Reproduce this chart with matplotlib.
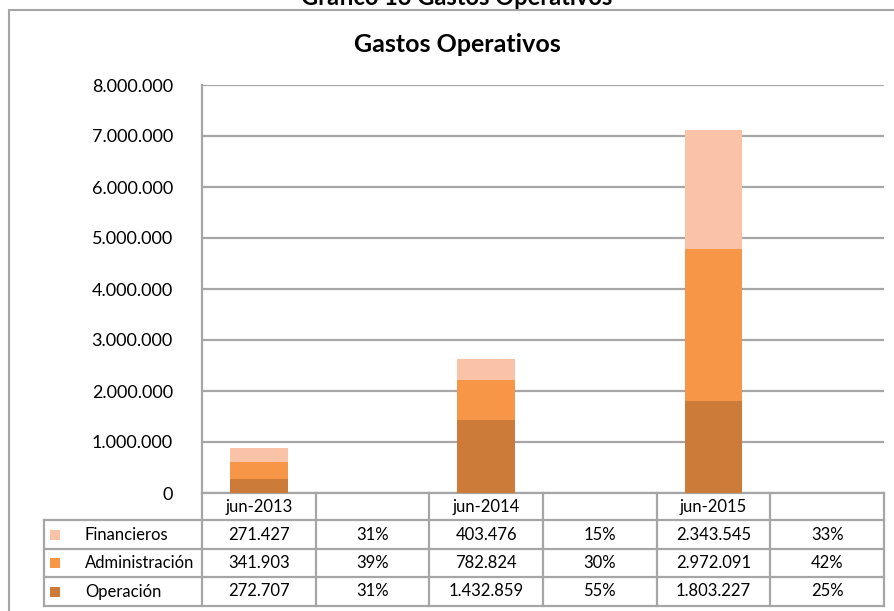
import matplotlib.pyplot as plt
from matplotlib.patches import Rectangle
from matplotlib.transforms import blended_transform_factory

plt.rcParams['font.family'] = ['Lato', 'DejaVu Sans']

categories = ['jun-2013', '', 'jun-2014', '', 'jun-2015', '']
bar_pos = [0, 2, 4]
series = ['Financieros', 'Administración', 'Operación']
financieros = [271427, 403476, 2343545]
administracion = [341903, 782824, 2972091]
operacion = [272707, 1432859, 1803227]
pct_fin = ['31%', '15%', '33%']
pct_adm = ['39%', '30%', '42%']
pct_ope = ['31%', '55%', '25%']
colors = {'Financieros': '#FAC3A8', 'Administración': '#F79646', 'Operación': '#CC7B38'}

W, H = 895, 611
fig = plt.figure(figsize=(W / 100, H / 100), dpi=100)
grid_c = '#A6A6A6'

# outer chart border
fig.add_artist(Rectangle((9 / W, -0.05), 1.2, (H - 10) / H + 0.05, transform=fig.transFigure,
                         fill=False, edgecolor=grid_c, lw=1.5))
fig.text(457 / W, 1 - 5 / H, 'Gráfico 13 Gastos Operativos', ha='center', va='baseline',
         fontsize=17, fontweight='bold')
fig.text(457 / W, 1 - 45 / H, 'Gastos Operativos', ha='center', va='center',
         fontsize=18, fontweight='bold')

x0, x1, y0, y1 = 202, 884, 493, 85
ax = fig.add_axes([x0 / W, 1 - y0 / H, (x1 - x0) / W, (y0 - y1) / H])

bottom2 = [a + b for a, b in zip(operacion, administracion)]
ax.bar(bar_pos, operacion, width=0.51, color=colors['Operación'], zorder=3)
ax.bar(bar_pos, administracion, width=0.51, bottom=operacion, color=colors['Administración'], zorder=3)
ax.bar(bar_pos, financieros, width=0.51, bottom=bottom2, color=colors['Financieros'], zorder=3)

ax.set_xlim(-0.5, 5.5)
ax.set_ylim(0, 8000000)
yt = list(range(0, 8000001, 1000000))
ax.set_yticks(yt)
ax.set_yticklabels([f'{v:,}'.replace(',', '.') for v in yt], fontsize=13)
ax.tick_params(axis='y', length=0, pad=21)
ax.set_xticks([])
ax.grid(axis='y', color=grid_c, lw=1.6, zorder=0)
for s in ['top', 'right', 'bottom']:
    ax.spines[s].set_visible(False)
ax.spines['left'].set_color(grid_c)
ax.spines['left'].set_linewidth(1.6)

# data table below the axes
tr = blended_transform_factory(ax.transData, fig.transFigure)
def fy(py):
    return 1 - py / H
rows_y = [493, 520, 549, 577, 606]
lk = dict(color=grid_c, lw=1.6, transform=tr, clip_on=False)
ax.plot([-0.5, 5.5], [fy(493), fy(493)], **lk)
for ry in rows_y[1:]:
    ax.plot([-0.5 - 158 / 114, 5.5], [fy(ry), fy(ry)], **lk)
for i in range(7):
    ax.plot([i - 0.5, i - 0.5], [fy(493), fy(606)], **lk)
ax.plot([-0.5 - 158 / 114] * 2, [fy(520), fy(606)], **lk)

for i, c in enumerate(categories):
    ax.text(i, fy(507), c, ha='center', va='center', fontsize=12, transform=tr)

table_rows = [
    ('Financieros', financieros, pct_fin),
    ('Administración', administracion, pct_adm),
    ('Operación', operacion, pct_ope),
]
for r, (name, vals, pcts) in enumerate(table_rows):
    yc = fy((rows_y[r + 1] + rows_y[r + 2]) / 2)
    fig.add_artist(Rectangle((50 / W, yc - 5 / H), 10 / W, 10 / H, transform=fig.transFigure,
                             color=colors[name], lw=0))
    fig.text(85 / W, yc, name, ha='left', va='center', fontsize=12)
    for j in range(3):
        ax.text(bar_pos[j], yc, f'{vals[j]:,}'.replace(',', '.'), ha='center', va='center',
                fontsize=12, transform=tr)
        ax.text(bar_pos[j] + 1, yc, pcts[j], ha='center', va='center', fontsize=12, transform=tr)

fig.savefig('out.png', dpi=100)
